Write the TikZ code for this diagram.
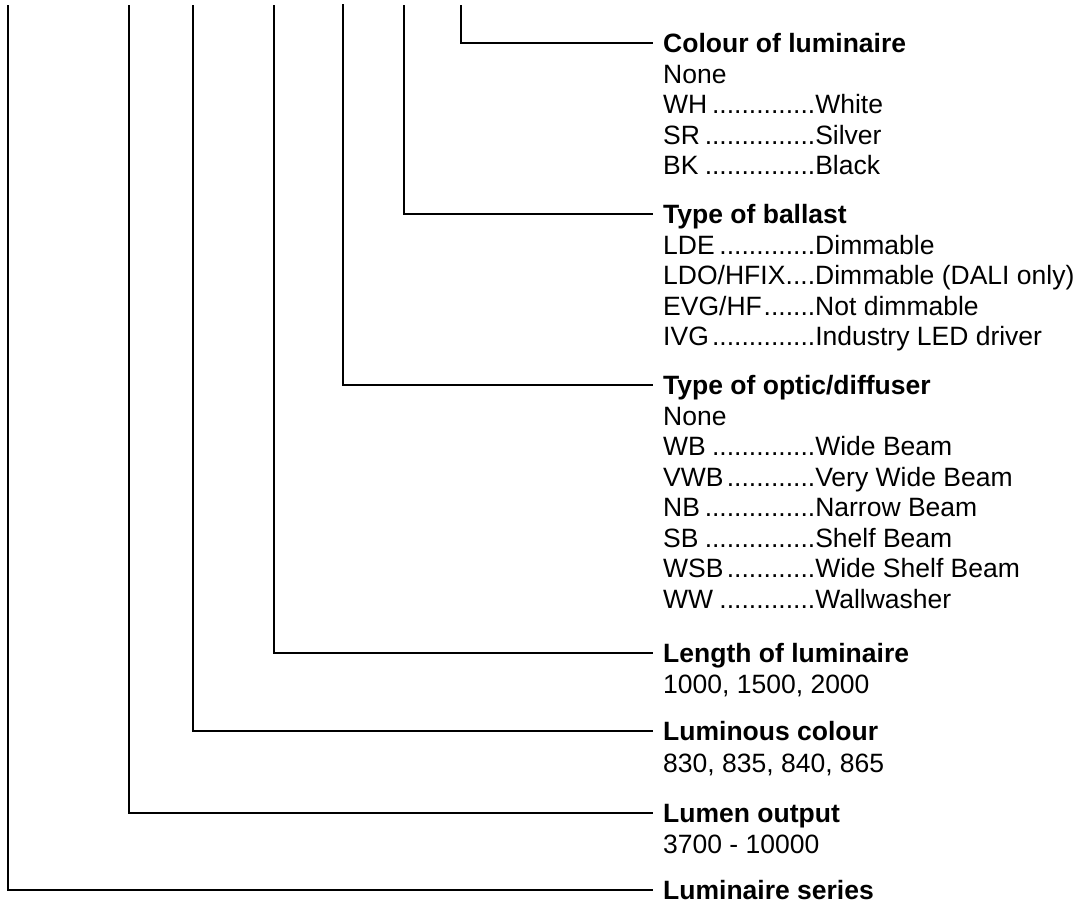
\documentclass[tikz,border=0pt]{standalone}
\usepackage{fontspec}
\setmainfont{Liberation Sans}
\newlength\dotw
\newcommand\ent[2]{\hbox{\settowidth{\dotw}{.}%
  \hbox to 152pt{\hskip\dimexpr152pt-40\dotw\relax
    \hbox to 40\dotw{\hskip\dimexpr40\dotw-152pt\relax #1\leaders\hbox{.}\hfill}}#2}}
\newcommand\pl[1]{\hbox{#1}}
\tikzset{
  lbl/.style={anchor=west, inner xsep=10pt, inner ysep=0pt, text height=19pt, text depth=0pt,
    font=\bfseries\fontsize{26.5pt}{30.5pt}\selectfont},
  body/.style={anchor=base west, inner xsep=10pt, inner ysep=0pt,
    font=\fontsize{26.5pt}{30.5pt}\selectfont},
  conn/.style={line width=1.7pt}
}
\begin{document}
\begin{tikzpicture}[x=1pt,y=-1pt]
\useasboundingbox (0,0) rectangle (1081,903);
% headings
\node[lbl] (h1) at (653,43) {Colour of luminaire};
\node[lbl] (h2) at (653,214) {Type of ballast};
\node[lbl] (h3) at (653,385) {Type of optic/diffuser};
\node[lbl] (h4) at (653,653) {Length of luminaire};
\node[lbl] (h5) at (653,731) {Luminous colour};
\node[lbl] (h6) at (653,813) {Lumen output};
\node[lbl] (h7) at (653,890) {Luminaire series};
% bodies
\node[body] (b1) at ([yshift=-30.5pt]h1.south west) {\vtop{\pl{None}\ent{WH}{White}\ent{SR}{Silver}\ent{BK}{Black}}};
\node[body] (b2) at ([yshift=-30.5pt]h2.south west) {\vtop{\ent{LDE}{Dimmable}\ent{LDO/HFIX}{Dimmable (DALI only)}\ent{EVG/HF}{Not dimmable}\ent{IVG}{Industry LED driver}}};
\node[body] (b3) at ([yshift=-30.5pt]h3.south west) {\vtop{\pl{None}\ent{WB}{Wide Beam}\ent{VWB}{Very Wide Beam}\ent{NB}{Narrow Beam}\ent{SB}{Shelf Beam}\ent{WSB}{Wide Shelf Beam}\ent{WW}{Wallwasher}}};
\node[body] (b4) at ([yshift=-30.5pt]h4.south west) {1000, 1500, 2000};
\node[body] (b5) at ([yshift=-31.5pt]h5.south west) {830, 835, 840, 865};
\node[body] (b6) at ([yshift=-30.5pt]h6.south west) {3700 - 10000};
% connector tops
\coordinate (t1) at (461,5);
\coordinate (t2) at (404,5);
\coordinate (t3) at (343,4);
\coordinate (t4) at (274,5);
\coordinate (t5) at (193,5);
\coordinate (t6) at (129,5);
\coordinate (t7) at (8,5);
\draw[conn] (t1) |- (h1.west);
\draw[conn] (t2) |- (h2.west);
\draw[conn] (t3) |- (h3.west);
\draw[conn] (t4) |- (h4.west);
\draw[conn] (t5) |- (h5.west);
\draw[conn] (t6) |- (h6.west);
\draw[conn] (t7) |- (h7.west);
\end{tikzpicture}
\end{document}
